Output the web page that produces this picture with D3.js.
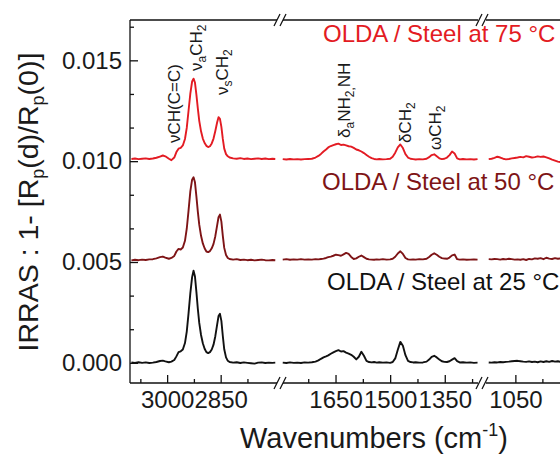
<!DOCTYPE html>
<html>
<head>
<meta charset="utf-8">
<script src="https://cdn.jsdelivr.net/npm/d3@7"></script>
<style>
  html, body { margin: 0; padding: 0; background: #fff; overflow: hidden; }
  svg { display: block; }
  text { font-family: 'Liberation Sans', Arial, sans-serif; }
</style>
</head>
<body>
<svg id="chart" width="560" height="455"></svg>
<script>
// IRRAS spectra of OLDA films on steel, stacked with vertical offsets,
// shown on a broken wavenumber axis (three windows).

// ---- Window 1: C-H stretching region (cm-1) ----
const wn1 = [3100, 3090, 3080, 3070, 3060, 3050, 3040, 3030, 3020, 3012, 3005, 2995, 2988, 2980, 2974, 2968, 2962, 2956, 2950, 2945, 2940, 2935, 2930, 2926, 2922, 2918, 2914, 2910, 2905, 2900, 2895, 2890, 2885, 2880, 2875, 2870, 2865, 2860, 2856, 2852, 2848, 2844, 2840, 2835, 2830, 2825, 2815, 2805, 2795, 2785, 2775, 2765, 2755, 2745, 2735, 2725, 2715, 2705, 2697];
const t25_1 = [0.00002, -0.00001, 0.00003, 0.00000, 0.00002, -0.00001, 0.00001, 0.00004, 0.00009, 0.00011, 0.00007, 0.00003, 0.00006, 0.00014, 0.00032, 0.00053, 0.00057, 0.00066, 0.00098, 0.00155, 0.00245, 0.00345, 0.00425, 0.00457, 0.00428, 0.00352, 0.00268, 0.00198, 0.00138, 0.00097, 0.00070, 0.00053, 0.00048, 0.00053, 0.00066, 0.00090, 0.00132, 0.00188, 0.00232, 0.00243, 0.00208, 0.00133, 0.00067, 0.00027, 0.00010, 0.00004, 0.00001, 0.00003, -0.00001, 0.00002, 0.00000, -0.00002, -0.00004, 0.00001, 0.00002, -0.00001, 0.00001, 0.00000, 0.00001];
const t50_1 = [0.00008, 0.00011, 0.00009, 0.00012, 0.00010, 0.00013, 0.00014, 0.00018, 0.00024, 0.00027, 0.00022, 0.00016, 0.00020, 0.00030, 0.00052, 0.00065, 0.00062, 0.00072, 0.00105, 0.00165, 0.00255, 0.00350, 0.00408, 0.00420, 0.00395, 0.00325, 0.00250, 0.00185, 0.00130, 0.00092, 0.00068, 0.00052, 0.00049, 0.00054, 0.00068, 0.00090, 0.00128, 0.00180, 0.00222, 0.00235, 0.00200, 0.00130, 0.00070, 0.00035, 0.00020, 0.00015, 0.00012, 0.00014, 0.00010, 0.00012, 0.00009, 0.00011, 0.00008, 0.00010, 0.00012, 0.00009, 0.00008, 0.00010, 0.00009];
const t75_1 = [0.00011, 0.00013, 0.00010, 0.00012, 0.00014, 0.00011, 0.00013, 0.00017, 0.00023, 0.00028, 0.00024, 0.00012, 0.00005, 0.00018, 0.00045, 0.00062, 0.00066, 0.00078, 0.00110, 0.00165, 0.00250, 0.00335, 0.00395, 0.00409, 0.00390, 0.00330, 0.00262, 0.00200, 0.00148, 0.00112, 0.00090, 0.00076, 0.00070, 0.00074, 0.00088, 0.00112, 0.00150, 0.00192, 0.00218, 0.00210, 0.00170, 0.00110, 0.00062, 0.00035, 0.00024, 0.00018, 0.00014, 0.00012, 0.00015, 0.00011, 0.00013, 0.00010, 0.00012, 0.00014, 0.00011, 0.00013, 0.00010, 0.00012, 0.00011];

// ---- Window 2: bending / NH deformation region ----
const wn2 = [1795, 1785, 1775, 1765, 1755, 1745, 1735, 1725, 1715, 1705, 1697, 1690, 1683, 1676, 1670, 1663, 1656, 1649, 1642, 1635, 1628, 1621, 1614, 1607, 1600, 1593, 1586, 1579, 1572, 1565, 1558, 1551, 1544, 1537, 1530, 1520, 1510, 1500, 1493, 1486, 1479, 1472, 1465, 1458, 1451, 1444, 1437, 1430, 1420, 1410, 1400, 1393, 1386, 1379, 1372, 1365, 1358, 1351, 1344, 1337, 1330, 1323, 1316, 1309, 1300, 1290, 1280, 1270, 1260];
const t25_2 = [0.00001, -0.00001, 0.00002, 0.00000, 0.00001, -0.00001, 0.00002, 0.00001, 0.00003, 0.00006, 0.00012, 0.00020, 0.00027, 0.00032, 0.00037, 0.00045, 0.00052, 0.00058, 0.00063, 0.00056, 0.00058, 0.00051, 0.00046, 0.00040, 0.00030, 0.00017, 0.00030, 0.00055, 0.00035, 0.00010, 0.00004, 0.00002, 0.00004, 0.00001, 0.00003, 0.00001, 0.00002, 0.00000, 0.00004, 0.00022, 0.00065, 0.00104, 0.00085, 0.00038, 0.00010, 0.00004, 0.00002, 0.00003, 0.00001, 0.00002, 0.00006, 0.00016, 0.00030, 0.00035, 0.00027, 0.00017, 0.00008, 0.00005, 0.00004, 0.00008, 0.00016, 0.00023, 0.00008, 0.00002, 0.00003, 0.00001, 0.00002, 0.00000, 0.00001];
const t50_2 = [0.00012, 0.00014, 0.00011, 0.00013, 0.00012, 0.00014, 0.00012, 0.00013, 0.00012, 0.00014, 0.00013, 0.00015, 0.00017, 0.00020, 0.00024, 0.00027, 0.00031, 0.00036, 0.00034, 0.00031, 0.00038, 0.00045, 0.00040, 0.00025, 0.00015, 0.00018, 0.00026, 0.00032, 0.00024, 0.00016, 0.00013, 0.00012, 0.00011, 0.00013, 0.00012, 0.00014, 0.00012, 0.00013, 0.00016, 0.00026, 0.00042, 0.00053, 0.00040, 0.00020, 0.00013, 0.00012, 0.00013, 0.00012, 0.00014, 0.00013, 0.00016, 0.00025, 0.00036, 0.00043, 0.00036, 0.00026, 0.00019, 0.00017, 0.00016, 0.00022, 0.00033, 0.00037, 0.00014, 0.00012, 0.00013, 0.00011, 0.00012, 0.00013, 0.00012];
const t75_2 = [0.00010, 0.00008, 0.00011, 0.00009, 0.00010, 0.00008, 0.00010, 0.00011, 0.00012, 0.00018, 0.00026, 0.00036, 0.00048, 0.00058, 0.00068, 0.00075, 0.00080, 0.00084, 0.00087, 0.00080, 0.00082, 0.00078, 0.00074, 0.00072, 0.00066, 0.00058, 0.00054, 0.00048, 0.00040, 0.00031, 0.00022, 0.00015, 0.00011, 0.00009, 0.00011, 0.00009, 0.00010, 0.00012, 0.00022, 0.00042, 0.00068, 0.00083, 0.00065, 0.00035, 0.00018, 0.00012, 0.00010, 0.00008, 0.00010, 0.00009, 0.00012, 0.00020, 0.00030, 0.00034, 0.00024, 0.00014, 0.00010, 0.00012, 0.00018, 0.00030, 0.00048, 0.00038, 0.00014, 0.00009, 0.00011, 0.00009, 0.00010, 0.00008, 0.00010];

// ---- Window 3: fingerprint region ----
const wn3 = [1124, 1116, 1108, 1100, 1092, 1084, 1076, 1068, 1060, 1052, 1044, 1036, 1028, 1020, 1012, 1004, 996, 988, 980, 972, 964, 956, 948, 940, 932, 924, 916, 908, 900, 892, 884, 876, 868, 860];
const t25_3 = [0.00002, 0.00001, 0.00003, 0.00002, 0.00004, 0.00003, 0.00005, 0.00006, 0.00008, 0.00009, 0.00010, 0.00008, 0.00006, 0.00005, 0.00007, 0.00004, 0.00006, 0.00003, 0.00007, 0.00004, 0.00008, 0.00005, 0.00009, 0.00006, 0.00008, 0.00005, 0.00007, 0.00004, 0.00006, 0.00005, 0.00007, 0.00004, 0.00006, 0.00005];
const t50_3 = [0.00014, 0.00013, 0.00015, 0.00014, 0.00012, 0.00015, 0.00013, 0.00016, 0.00014, 0.00012, 0.00013, 0.00011, 0.00014, 0.00010, 0.00015, 0.00013, 0.00018, 0.00016, 0.00019, 0.00014, 0.00021, 0.00017, 0.00015, 0.00019, 0.00016, 0.00018, 0.00015, 0.00017, 0.00016, 0.00018, 0.00015, 0.00017, 0.00016, 0.00015];
const t75_3 = [0.00010, 0.00012, 0.00016, 0.00022, 0.00018, 0.00012, 0.00009, 0.00011, 0.00014, 0.00016, 0.00018, 0.00021, 0.00019, 0.00025, 0.00022, 0.00018, 0.00020, 0.00024, 0.00021, 0.00023, 0.00019, 0.00014, 0.00008, 0.00003, -0.00002, -0.00005, -0.00004, -0.00006, -0.00003, -0.00004, -0.00005, -0.00003, -0.00004, -0.00005];

// Series: label, vertical offset, colour
const seriesNames = ["OLDA / Steel at 25 °C", "OLDA / Steel at 50 °C", "OLDA / Steel at 75 °C"];
const seriesOffsets = [0.000, 0.005, 0.010];
const seriesColors = ["#111111", "#7e1416", "#e31b23"];

// Tick values
const yMajorTicks = [0.000, 0.005, 0.010, 0.015];
const xMajorTicks = [[3000, 2850], [1650, 1500, 1350], [1050]];
const xMinorTicks = [[3075, 2925, 2775], [1725, 1575, 1425, 1275], [975]];

// ---- Layout ----
const svg = d3.select("#chart");
const plotTop = 20, plotBottom = 383, plotLeft = 130;
const font = "'Liberation Sans', Arial, sans-serif";

const y = d3.scaleLinear().domain([-0.001, 0.017]).range([plotBottom, plotTop]);

const windows = [
  { x: d3.scaleLinear().domain([3104, 2695]).range([130, 276]), wn: wn1, data: [t25_1, t50_1, t75_1], axis: [130, 277] },
  { x: d3.scaleLinear().domain([1797, 1256]).range([282, 479]), wn: wn2, data: [t25_2, t50_2, t75_2], axis: [283, 478] },
  { x: d3.scaleLinear().domain([1126, 850]).range([488, 587.4]), wn: wn3, data: [t25_3, t50_3, t75_3], axis: [486, 600] }
];
const breaks = [280, 482];

// ---- Spectra ----
windows.forEach((w, wi) => {
  w.data.forEach((vals, si) => {
    const pts = w.wn.map((k, i) => [k, vals[i] + seriesOffsets[si]]);
    const line = d3.line().x(d => w.x(d[0])).y(d => y(d[1]));
    svg.append("path")
      .datum(pts)
      .attr("d", line)
      .attr("fill", "none")
      .attr("stroke", seriesColors[si])
      .attr("stroke-width", 1.9)
      .attr("stroke-linejoin", "round");
  });
});

// ---- Axes ----
const axisColor = "#111";
const axes = svg.append("g").attr("stroke", axisColor).attr("stroke-width", 1.3);

// left axis line
axes.append("line").attr("x1", plotLeft).attr("x2", plotLeft).attr("y1", plotTop).attr("y2", plotBottom);

// top & bottom lines, broken
windows.forEach(w => {
  [plotTop, plotBottom].forEach(yy => {
    axes.append("line").attr("x1", w.axis[0]).attr("x2", w.axis[1]).attr("y1", yy).attr("y2", yy);
  });
});
// break marks
breaks.forEach(cx => {
  [plotTop, plotBottom].forEach(yy => {
    [-3, 3].forEach(dx => {
      axes.append("line")
        .attr("x1", cx + dx - 3).attr("y1", yy + 6)
        .attr("x2", cx + dx + 3).attr("y2", yy - 6);
    });
  });
});

// bottom ticks per window
windows.forEach((w, wi) => {
  const major = d3.axisBottom(w.x).tickValues(xMajorTicks[wi]).tickSize(-8).tickSizeOuter(0)
    .tickPadding(8).tickFormat(d3.format("d"));
  const minor = d3.axisBottom(w.x).tickValues(xMinorTicks[wi]).tickSize(-4).tickSizeOuter(0).tickFormat("");
  [major, minor].forEach(ax => {
    const g = svg.append("g").attr("transform", `translate(0,${plotBottom})`).call(ax);
    g.select(".domain").remove();
    g.selectAll(".tick line").attr("stroke", axisColor).attr("stroke-width", 1.3);
    g.selectAll(".tick text").attr("font-family", font).attr("font-size", 24).attr("fill", "#1a1a1a");
  });
});

// left ticks
const yMinorTicks = d3.range(1, 11).filter(i => i % 3 !== 0).map(i => i * 0.005 / 3);
const yMajor = d3.axisLeft(y).tickValues(yMajorTicks).tickSize(-8).tickSizeOuter(0)
  .tickPadding(8).tickFormat(d3.format(".3f"));
const yMinor = d3.axisLeft(y).tickValues(yMinorTicks).tickSize(-4).tickSizeOuter(0).tickFormat("");
[yMajor, yMinor].forEach(ax => {
  const g = svg.append("g").attr("transform", `translate(${plotLeft},0)`).call(ax);
  g.select(".domain").remove();
  g.selectAll(".tick line").attr("stroke", axisColor).attr("stroke-width", 1.3);
  g.selectAll(".tick text").attr("font-family", font).attr("font-size", 24).attr("fill", "#1a1a1a");
});

// ---- Axis titles ----
const xTitle = svg.append("text")
  .attr("x", 374).attr("y", 448)
  .attr("text-anchor", "middle")
  .attr("font-size", 29).attr("fill", "#1a1a1a");
xTitle.append("tspan").text("Wavenumbers (cm");
xTitle.append("tspan").attr("font-size", 18).attr("dy", -12).text("-1");
xTitle.append("tspan").attr("dy", 12).text(")");

const yTitle = svg.append("text")
  .attr("transform", "translate(38,202) rotate(-90)")
  .attr("text-anchor", "middle")
  .attr("font-size", 28.5).attr("fill", "#1a1a1a");
yTitle.append("tspan").text("IRRAS : 1- [R");
yTitle.append("tspan").attr("font-size", 18).attr("dy", 6).text("p");
yTitle.append("tspan").attr("dy", -6).text("(d)/R");
yTitle.append("tspan").attr("font-size", 18).attr("dy", 6).text("p");
yTitle.append("tspan").attr("dy", -6).text("(0)]");

// ---- Series labels ----
const labelPos = [[327, 290], [322, 190], [323, 42]];
seriesNames.forEach((name, i) => {
  svg.append("text")
    .attr("x", labelPos[i][0]).attr("y", labelPos[i][1])
    .attr("font-size", 24).attr("fill", seriesColors[i])
    .text(name);
});

// ---- Band assignments (vertical labels) ----
// each part: [text, isSubscript]
const bandLabels = [
  { x: 180, y: 143, parts: [["νCH(C=C)", false]] },
  { x: 202, y: 71, parts: [["ν", false], ["a", true], ["CH", false], ["2", true]] },
  { x: 228, y: 95, parts: [["ν", false], ["s", true], ["CH", false], ["2", true]] },
  { x: 350, y: 138, parts: [["δ", false], ["a", true], ["NH", false], ["2,", true], ["NH", false]] },
  { x: 411, y: 143, parts: [["δCH", false], ["2", true]] },
  { x: 441, y: 150, parts: [["ωCH", false], ["2", true]] }
];
bandLabels.forEach(b => {
  const t = svg.append("text")
    .attr("transform", `translate(${b.x},${b.y}) rotate(-90)`)
    .attr("font-size", 17).attr("fill", "#1a1a1a");
  let sub = false;
  b.parts.forEach(([txt, isSub]) => {
    const ts = t.append("tspan").text(txt);
    if (isSub && !sub) ts.attr("dy", 4).attr("font-size", 12);
    else if (isSub) ts.attr("font-size", 12);
    else if (!isSub && sub) ts.attr("dy", -4);
    sub = isSub;
  });
});
</script>
</body>
</html>
